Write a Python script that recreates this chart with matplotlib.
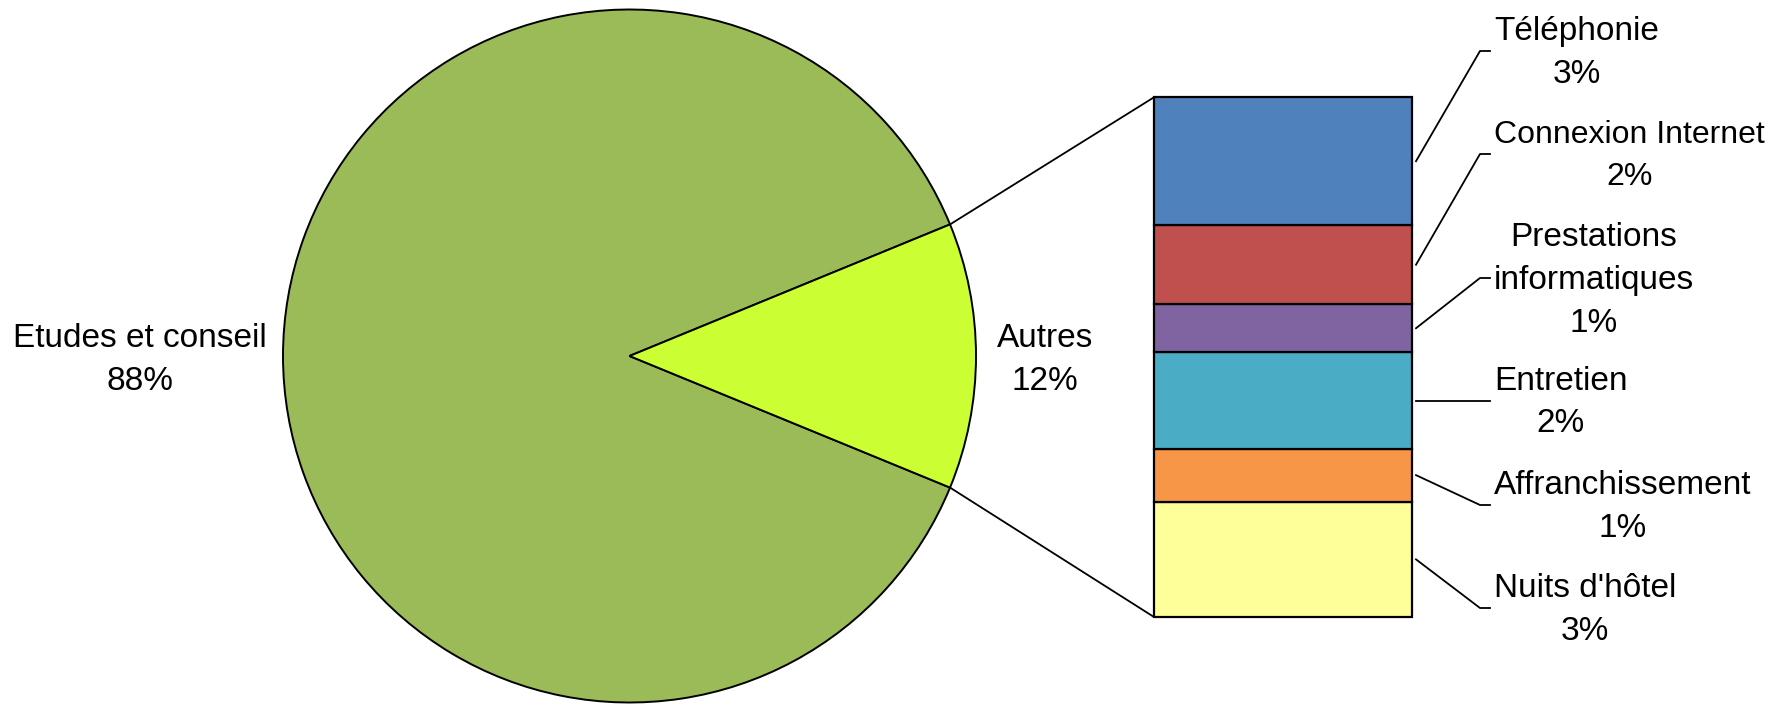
import matplotlib
matplotlib.use("Agg")
import matplotlib.pyplot as plt
from matplotlib.patches import ConnectionPatch
from matplotlib.lines import Line2D
import numpy as np

plt.rcParams['font.family'] = ['Liberation Sans', 'DejaVu Sans']

# ---- data ----
pie_labels = ['Etudes et conseil', 'Autres']
pie_values = [87.6, 12.4]
pie_colors = ['#9BBB59', '#CCFF33']

sub_labels = ['Téléphonie', 'Connexion Internet', 'Prestations\ninformatiques',
              'Entretien', 'Affranchissement', "Nuits d'hôtel"]
sub_values = [3.05, 1.89, 1.14, 2.30, 1.27, 2.75]
sub_colors = ['#4F81BD', '#C0504D', '#8064A2', '#4BACC6', '#F79646', '#FFFF99']

W, H = 1774, 705
DPI = 100
FS = 24
LS = 1.5

fig = plt.figure(figsize=(W / DPI, H / DPI), dpi=DPI)

def frac_box(x0, y0_down, w, h):
    return [x0 / W, 1 - (y0_down + h) / H, w / W, h / H]

# ---- pie ----
cx, cy, r = 629.5, 356.0, 346.5
ax1 = fig.add_axes(frac_box(cx - r, cy - r, 2 * r, 2 * r))
start = pie_values[1] / 100 * 180
ax1.pie(pie_values, colors=pie_colors, startangle=start, radius=1,
        wedgeprops=dict(edgecolor='black', linewidth=1.4))
ax1.set_xlim(-1, 1)
ax1.set_ylim(-1, 1)
ax1.set_axis_off()

def ptext(x, y_down, s, fs=FS, **kw):
    fig.text(x / W, 1 - y_down / H, s, fontsize=fs, **kw)

ptext(140, 360, f"{pie_labels[0]}\n{round(pie_values[0])}%", ha='center', va='center',
      multialignment='center', linespacing=LS)
ptext(1045, 360, f"{pie_labels[1]}\n{round(pie_values[1])}%", ha='center', va='center',
      multialignment='center', linespacing=LS)

# ---- stacked bar ----
bx0, bx1, by0, by1 = 1154, 1412, 97.3, 617.0
ax2 = fig.add_axes(frac_box(bx0, by0, bx1 - bx0, by1 - by0))
total = sum(sub_values)
bottom = 0.0
mids = [0] * len(sub_values)
for i in range(len(sub_values) - 1, -1, -1):
    ax2.bar(0, sub_values[i], width=1, bottom=bottom, color=sub_colors[i],
            edgecolor='black', linewidth=1.6, clip_on=False)
    mids[i] = bottom + sub_values[i] / 2
    bottom += sub_values[i]
ax2.set_xlim(-0.5, 0.5)
ax2.set_ylim(0, total)
ax2.set_axis_off()

# ---- connectors pie -> bar ----
a = np.deg2rad(start)
for sign, yb in [(1, total), (-1, 0)]:
    con = ConnectionPatch(xyA=(np.cos(a), sign * np.sin(a)), coordsA=ax1.transData,
                          xyB=(-0.5, yb), coordsB=ax2.transData,
                          color='black', linewidth=1.3)
    fig.add_artist(con)

# ---- right labels with leaders ----
label_y = [51, 154, 278, 400.5, 505, 608]
label_fs = [FS, 23, FS, FS, FS, FS]
fig.canvas.draw()
for i, lab in enumerate(sub_labels):
    sx, sy = ax2.transData.transform((0.5, mids[i]))
    sx += 4
    yc = H - label_y[i]
    if i == 3:
        sy = yc
    line = Line2D([sx, 1480, 1490], [sy, yc, yc], transform=None,
                  color='black', linewidth=1.3)
    fig.add_artist(line)
    ptext(1494, label_y[i] + 2, f"{lab}\n{round(sub_values[i])}%", fs=label_fs[i],
          ha='left', va='center', multialignment='center', linespacing=LS)

fig.savefig('out.png', dpi=DPI)
